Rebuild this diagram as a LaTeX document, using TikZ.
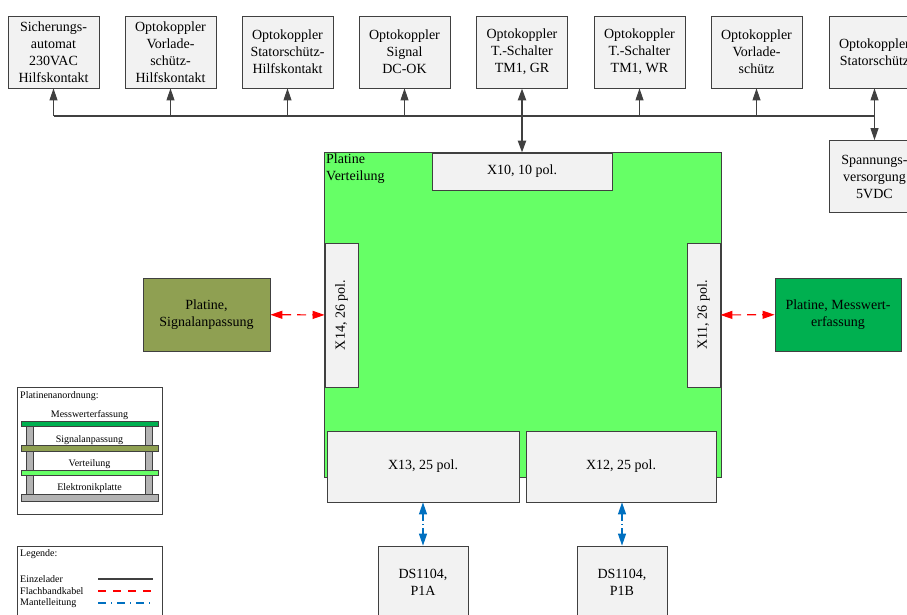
\documentclass[tikz,border=0pt]{standalone}
\usepackage{fontspec}
\setmainfont{Liberation Serif}
\usepackage{xcolor}
\usetikzlibrary{arrows.meta}
\usetikzlibrary{positioning}

\definecolor{boxgray}{HTML}{F2F2F2}
\definecolor{linegray}{HTML}{404040}
\definecolor{boardgreen}{HTML}{66FF66}
\definecolor{sigolive}{HTML}{8FA052}
\definecolor{messgreen}{HTML}{00B050}
\definecolor{pillargray}{HTML}{B3B3B3}
\definecolor{cableblue}{HTML}{0070C0}

\begin{document}
\begin{tikzpicture}[
    x=1pt, y=-1pt,
    every node/.style={font=\fontsize{14}{17}\selectfont, align=center, inner sep=1pt},
    box/.style={rectangle, draw=linegray, line width=0.8pt, fill=boxgray, minimum width=91pt, minimum height=72pt},
    con/.style={rectangle, draw=linegray, line width=0.8pt, fill=boxgray},
    board/.style={rectangle, draw=linegray, line width=0.8pt},
    small/.style={font=\fontsize{10}{12}\selectfont, inner sep=0pt},
    wire/.style={draw=linegray, line width=1pt},
    tip/.style={-{Triangle[width=8pt,length=12pt]}},
    tips/.style={{Triangle[width=8pt,length=12pt]}-{Triangle[width=8pt,length=12pt]}},
    flat/.style={draw=red, line width=1.2pt, dash pattern=on 9pt off 6pt},
    sheath/.style={draw=cableblue, line width=1.2pt, dash pattern=on 7pt off 3pt on 1pt off 3pt},
  ]
  \useasboundingbox (0,0) rectangle (907,615);
  \clip (0,0) rectangle (907,615);

  % Top row
  \node[box] (sich)  at (53.5, 52)  {Sicherungs-\\automat\\230VAC\\Hilfskontakt};
  \node[box] (vorh)  at (170.5, 52) {Optokoppler\\Vorlade-\\schütz-\\Hilfskontakt};
  \node[box] (stath) at (287.5, 52) {Optokoppler\\Statorschütz-\\Hilfskontakt};
  \node[box] (dcok)  at (404.5, 52) {Optokoppler\\Signal\\DC-OK};
  \node[box] (tmgr)  at (522, 52)   {Optokoppler\\T.-Schalter\\TM1, GR};
  \node[box] (tmwr)  at (639.5, 52) {Optokoppler\\T.-Schalter\\TM1, WR};
  \node[box] (vorl)  at (756.5, 52) {Optokoppler\\Vorlade-\\schütz};
  \node[box] (stat)  at (874.5, 52) {Optokoppler\\Statorschütz};
  \node[box] (psu)   at (874.5, 176.5) {Spannungs-\\versorgung\\5VDC};

  % Bus
  \coordinate (j1) at (53.5, 116);
  \coordinate (j2) at (170.5, 116);
  \coordinate (j3) at (287.5, 116);
  \coordinate (j4) at (404.5, 116);
  \coordinate (j6) at (639.5, 116);
  \coordinate (j7) at (756.5, 116);
  \coordinate (j8) at (874.5, 116);
  \draw[wire, line width=1.6pt] (j1) -- (j8);
  \draw[wire, tip] (j1) -- (sich);
  \draw[wire, tip] (j2) -- (vorh);
  \draw[wire, tip] (j3) -- (stath);
  \draw[wire, tip] (j4) -- (dcok);
  \draw[wire, tip] (j6) -- (tmwr);
  \draw[wire, tip] (j7) -- (vorl);
  \draw[wire, tips] (stat) -- (psu);

  % Platine Verteilung
  \node[board, fill=boardgreen, minimum width=397pt, minimum height=325pt, anchor=north west] (vert) at (324, 152) {};
  \node[anchor=north west, align=left, inner sep=2pt] (vertlabel) at (vert.north west) {Platine\\Verteilung};
  \node[con, minimum width=180pt, minimum height=37pt] (x10) at (522, 171.5) {X10, 10 pol.};
  \node[con, rotate=90, minimum width=144pt, minimum height=33pt] (x14) at (341.5, 315) {X14, 26 pol.};
  \node[con, rotate=90, minimum width=144pt, minimum height=33pt] (x11) at (703.5, 315) {X11, 26 pol.};
  \node[con, minimum width=192pt, minimum height=71pt] (x13) at (423, 466.5) {X13, 25 pol.};
  \node[con, minimum width=190pt, minimum height=71pt] (x12) at (621, 466.5) {X12, 25 pol.};
  \draw[wire, line width=2.2pt, tips] (tmgr) -- (x10);

  % Side boards
  \node[board, fill=sigolive, minimum width=127pt, minimum height=73pt] (sig) at (206.5, 314.5) {Platine,\\Signalanpassung};
  \node[board, fill=messgreen, minimum width=126pt, minimum height=73pt] (mess) at (838, 314.5) {Platine, Messwert-\\erfassung};
  \draw[flat, tips, red] (sig) -- (x14);
  \draw[flat, tips, red] (x11) -- (mess);

  % DS1104
  \node[box, minimum width=90pt] (p1a) at (423, 582) {DS1104,\\P1A};
  \node[box, minimum width=90pt] (p1b) at (622, 582) {DS1104,\\P1B};
  \draw[sheath, tips, cableblue] (x13) -- (p1a);
  \draw[sheath, tips, cableblue] (x12.south -| p1b.north) -- (p1b);

  % Platinenanordnung
  \draw[linegray, line width=0.8pt] (17, 387) rectangle (162, 514);
  \node[small, anchor=north west] (anord) at (20, 391) {Platinenanordnung:};
  \filldraw[fill=pillargray, draw=linegray, line width=0.8pt] (26.7, 426) rectangle (33.3, 494);
  \filldraw[fill=pillargray, draw=linegray, line width=0.8pt] (145.7, 426) rectangle (152.3, 494);
  \filldraw[fill=messgreen, draw=linegray, line width=0.8pt] (21, 421) rectangle (158, 426.7);
  \filldraw[fill=sigolive, draw=linegray, line width=0.8pt] (21, 445.7) rectangle (158, 451);
  \filldraw[fill=boardgreen, draw=linegray, line width=0.8pt] (21, 470) rectangle (158, 475.7);
  \filldraw[fill=pillargray, draw=linegray, line width=0.8pt] (21, 494) rectangle (158, 501);
  \node[small] (lmess) at (89.5, 415.5) {Messwerterfassung};
  \node[small] (lsig)  at (89.5, 440.5) {Signalanpassung};
  \node[small] (lvert) at (89.5, 464.5) {Verteilung};
  \node[small] (lelek) at (89.5, 488.5) {Elektronikplatte};

  % Legende
  \draw[linegray, line width=0.8pt] (17, 546) rectangle (162, 640);
  \node[small, anchor=west] (leg)  at (20, 554) {Legende:};
  \node[small, anchor=west] (ein)  at (20, 579) {Einzelader};
  \node[small, anchor=west] (flb)  at (20, 591) {Flachbandkabel};
  \node[small, anchor=west] (mtl)  at (20, 603) {Mantelleitung};
  \draw[wire, line width=1.2pt] (98, 579) -- (153, 579);
  \draw[red, line width=1.3pt, dash pattern=on 8pt off 7pt] (98, 591) -- (153, 591);
  \draw[cableblue, line width=1.3pt, dash pattern=on 8pt off 5pt on 1pt off 5pt] (98, 603) -- (153, 603);

\end{tikzpicture}
\end{document}
